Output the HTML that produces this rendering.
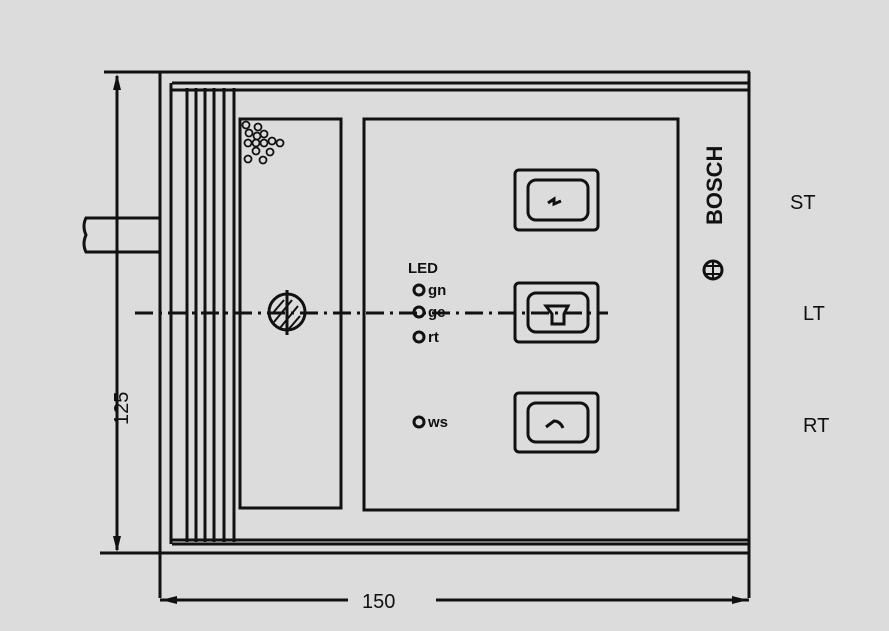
<!DOCTYPE html>
<html><head><style>
body{margin:0;background:#dcdcdc}
svg{display:block}
text{font-family:"Liberation Sans",sans-serif;fill:#111}
</style></head><body>
<svg width="889" height="631" viewBox="0 0 889 631" xmlns="http://www.w3.org/2000/svg">
<rect width="889" height="631" fill="#dcdcdc"/>
<g stroke="#111" stroke-width="3" fill="none">
<line x1="104" y1="72" x2="750" y2="72"/>
<line x1="160" y1="72" x2="160" y2="598"/>
<line x1="749" y1="72" x2="749" y2="598"/>
<line x1="100" y1="553" x2="749" y2="553"/>
<line x1="172" y1="83" x2="750" y2="83"/>
<line x1="172" y1="90" x2="750" y2="90"/>
<line x1="172" y1="540" x2="749" y2="540"/>
<line x1="172" y1="544" x2="749" y2="544"/>
<line x1="171" y1="83" x2="171" y2="544"/>
<line x1="187" y1="88" x2="187" y2="542"/>
<line x1="196" y1="88" x2="196" y2="542"/>
<line x1="205" y1="88" x2="205" y2="542"/>
<line x1="214" y1="88" x2="214" y2="542"/>
<line x1="224" y1="88" x2="224" y2="542"/>
<line x1="234" y1="88" x2="234" y2="542"/>
<rect x="240" y="119" width="101" height="389"/>
<rect x="364" y="119" width="314" height="391"/>
<path d="M160 218 H86 Q82 226 86 235 Q82 244 86 252 H160"/>
<rect x="515" y="170" width="83" height="60" rx="4"/>
<rect x="528" y="180" width="60" height="40" rx="8"/>
<rect x="515" y="283" width="83" height="59" rx="4"/>
<rect x="528" y="293" width="60" height="39" rx="8"/>
<rect x="515" y="393" width="83" height="59" rx="4"/>
<rect x="528" y="403" width="60" height="39" rx="8"/>
<path d="M548 203 l6 -4 v5 l7 -3"/>
<path d="M546 306 h22 l-4 8 v10 h-12 v-10 z"/>
<path d="M546 427 l8 -6 q6 0 9 7"/>
<circle cx="419" cy="290" r="5"/>
<circle cx="419" cy="312" r="5"/>
<circle cx="419" cy="337" r="5"/>
<circle cx="419" cy="422" r="5"/>
<circle cx="287" cy="312" r="18"/>
<line x1="287" y1="290" x2="287" y2="335"/>
<path d="M274 322 l18 -22 M280 328 l18 -22 M272 314 l12 -14 M288 330 l12 -14" stroke-width="2"/>
<circle cx="713" cy="270" r="9"/>
<path d="M706 266 h14 M706 274 h14 M713 262 v16" stroke-width="2"/>
<path d="M135 313 H608" stroke-dasharray="18 6 3 6"/>
<line x1="117" y1="76" x2="117" y2="550"/>
<line x1="160" y1="600" x2="348" y2="600"/>
<line x1="436" y1="600" x2="749" y2="600"/>
</g>
<g fill="#111">
<path d="M117 74 l-4 16 h8 z"/>
<path d="M117 552 l-4 -16 h8 z"/>
<path d="M161 600 l16 -4 v8 z"/>
<path d="M748 600 l-16 -4 v8 z"/>
</g>
<g fill="none" stroke="#111" stroke-width="1.8">
<circle cx="246" cy="125" r="3.5"/><circle cx="258" cy="127" r="3.5"/>
<circle cx="249" cy="133" r="3.5"/><circle cx="257" cy="136" r="3.5"/><circle cx="264" cy="134" r="3.5"/><circle cx="272" cy="141" r="3.5"/>
<circle cx="248" cy="143" r="3.5"/><circle cx="256" cy="143" r="3.5"/><circle cx="264" cy="143" r="3.5"/><circle cx="280" cy="143" r="3.5"/>
<circle cx="256" cy="151" r="3.5"/><circle cx="270" cy="152" r="3.5"/>
<circle cx="248" cy="159" r="3.5"/><circle cx="263" cy="160" r="3.5"/>
</g>
<text x="408" y="273" font-size="15" font-weight="bold">LED</text>
<text x="428" y="295" font-size="15" font-weight="bold">gn</text>
<text x="428" y="317" font-size="15" font-weight="bold">ge</text>
<text x="428" y="342" font-size="15" font-weight="bold">rt</text>
<text x="428" y="427" font-size="15" font-weight="bold">ws</text>
<text x="790" y="209" font-size="20">ST</text>
<text x="803" y="320" font-size="20">LT</text>
<text x="803" y="432" font-size="20">RT</text>
<text x="362" y="608" font-size="20">150</text>
<text transform="translate(128,425) rotate(-90)" font-size="20">125</text>
<text transform="translate(722,225) rotate(-90)" font-size="22" font-weight="bold">BOSCH</text>
</svg>
</body></html>
